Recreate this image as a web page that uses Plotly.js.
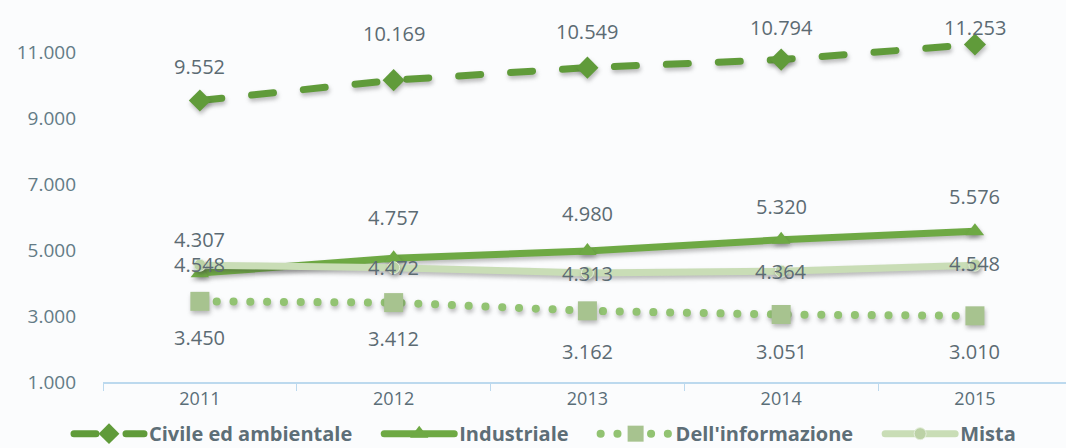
<!DOCTYPE html>
<html><head><meta charset="utf-8">
<script src="https://cdn.plot.ly/plotly-3.0.1.min.js"></script>
<style>html,body{margin:0;padding:0;background:#fbfcfd}#chart{width:1066px;height:448px}
.scatterlayer .trace .lines path, .scatterlayer .trace .points path{filter:drop-shadow(1px 3px 2px rgba(60,60,60,0.35))}
</style>
</head><body><div id="chart"></div>
<script>
const years = ['2011','2012','2013','2014','2015'];
const civile = [9552, 10169, 10549, 10794, 11253];
const industriale = [4307, 4757, 4980, 5320, 5576];
const informazione = [3450, 3412, 3162, 3051, 3010];
const mista = [4548, 4472, 4313, 4364, 4548];
const seriesNames = ['Civile ed ambientale', 'Industriale', "Dell'informazione", 'Mista'];

// label offsets (pixels) — styling only
const civileShift = [34, 47, 36, 32, 17];
const industrialeShift = [34, 41, 37, 33, 35];
const informazioneShift = [-36, -36, -41, -37, -36];
const mistaShift = [1, 0, -1, 0, 2];

const fmt = v => String(v).replace(/\B(?=(\d{3})+(?!\d))/g, '.');
const labelFont = {family: 'Open Sans, sans-serif', size: 20, color: '#5c6b73'};

const traces = [
  {x: years, y: civile, name: seriesNames[0], type: 'scatter', mode: 'lines+markers',
   line: {color: '#609b3a', width: 7, dash: '22px,30px'},
   marker: {symbol: 'diamond', size: 17, color: '#609b3a'}},
  {x: years, y: industriale, name: seriesNames[1], type: 'scatter', mode: 'lines+markers',
   line: {color: '#6ea944', width: 7},
   marker: {symbol: 'triangle-up', size: 16, color: '#6ea944'}},
  {x: years, y: informazione, name: seriesNames[2], type: 'scatter', mode: 'lines+markers',
   line: {color: '#92c372', width: 8, dash: '0.1px,16.7px'},
   marker: {symbol: 'square', size: 19, color: '#a7c38f'}},
  {x: years, y: mista, name: seriesNames[3], type: 'scatter', mode: 'lines+markers',
   line: {color: '#c9ddb6', width: 7},
   marker: {symbol: 'circle', size: 12, color: '#bcd2a6', line: {color: '#e4eedb', width: 1}}}
];

const annotations = [];
[[civile, civileShift], [industriale, industrialeShift], [informazione, informazioneShift], [mista, mistaShift]]
  .forEach(([vals, shifts]) => vals.forEach((v, i) => annotations.push({
    x: i, y: v, xref: 'x', yref: 'y', text: fmt(v), showarrow: false,
    yshift: shifts[i], font: labelFont
  })));

const layout = {
  width: 1066, height: 448,
  margin: {l: 103, r: 0, t: 10, b: 66},
  paper_bgcolor: '#fbfcfd', plot_bgcolor: '#fbfcfd',
  separators: ',.',
  showlegend: true,
  legend: {orientation: 'h', xref: 'container', yref: 'container', x: 0.5, xanchor: 'center',
           y: 0.032, yanchor: 'middle', bgcolor: 'rgba(0,0,0,0)',
           font: {family: 'Open Sans, sans-serif', size: 20, color: '#5d6e77', weight: 'bold'},
           itemwidth: 70, tracegroupgap: 0},
  xaxis: {type: 'category', range: [-0.5, 4.47], showgrid: false, zeroline: false,
          showline: true, linecolor: '#bcd9ee', linewidth: 1.5,
          ticks: 'outside', tickson: 'boundaries', ticklen: 7, tickcolor: '#bcd9ee',
          tickfont: {family: 'Open Sans, sans-serif', size: 18, color: '#5a6e78'}},
  yaxis: {range: [1000, 12300], tickvals: [1000, 3000, 5000, 7000, 9000, 11000], tickformat: ',d',
          showgrid: false, zeroline: false, showline: false, ticks: '', ticklabelstandoff: 26,
          tickfont: {family: 'Open Sans, sans-serif', size: 19, color: '#637b86'}},
  annotations: annotations
};

Plotly.newPlot('chart', traces, layout, {displayModeBar: false, staticPlot: true}).then(gd => {
  gd.querySelectorAll('.scatterlayer .js-line, .legend .js-line').forEach(p => {
    p.style.strokeLinecap = 'round';
  });
  // widen the gaps between legend entries
  gd.querySelectorAll('.legend, .legend .scrollbox, .legend g').forEach(el => el.removeAttribute('clip-path'));
  const gap = 22, offset = 12;
  const items = gd.querySelectorAll('.legend .traces');
  const n = items.length;
  items.forEach((g, i) => {
    const m = /translate\(\s*([-\d.]+)[ ,]+([-\d.]+)\s*\)/.exec(g.getAttribute('transform') || '');
    if (!m) return;
    const nx = parseFloat(m[1]) + gap * i - gap * (n - 1) / 2 + offset;
    g.setAttribute('transform', `translate(${nx},${m[2]})`);
  });
});
</script></body></html>
